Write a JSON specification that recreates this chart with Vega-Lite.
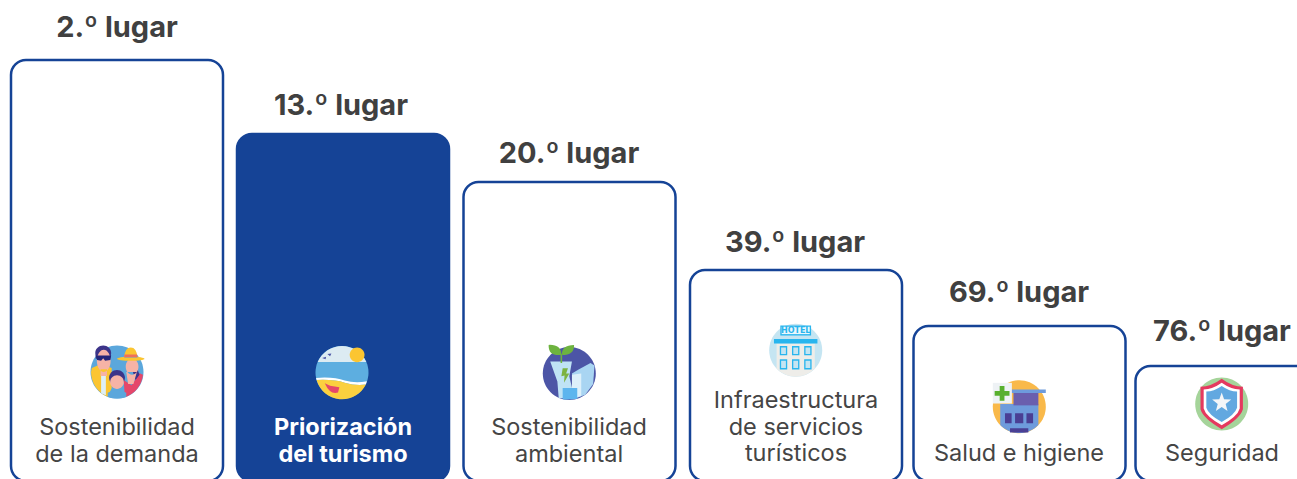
{"$schema":"https://vega.github.io/schema/vega-lite/v6.json","width":1297,"height":479,"padding":0,"autosize":{"type":"none"},"background":"white","view":{"stroke":null},
"datasets":{"pilares":[
{"orden":1,"puesto":2,"titulo":"2.º lugar","etiqueta":"Sostenibilidad\nde la demanda"},
{"orden":2,"puesto":13,"titulo":"13.º lugar","etiqueta":"Priorización\ndel turismo"},
{"orden":3,"puesto":20,"titulo":"20.º lugar","etiqueta":"Sostenibilidad\nambiental"},
{"orden":4,"puesto":39,"titulo":"39.º lugar","etiqueta":"Infraestructura\nde servicios\nturísticos"},
{"orden":5,"puesto":69,"titulo":"69.º lugar","etiqueta":"Salud e higiene"},
{"orden":6,"puesto":76,"titulo":"76.º lugar","etiqueta":"Seguridad"}],
"iconos":[
{"orden":1,"puesto":2,"parte":"fam_fondo"},{"orden":1,"puesto":2,"parte":"fam_camisa"},{"orden":1,"puesto":2,"parte":"fam_camiseta"},{"orden":1,"puesto":2,"parte":"fam_vestido"},{"orden":1,"puesto":2,"parte":"fam_pelo"},{"orden":1,"puesto":2,"parte":"fam_piel"},{"orden":1,"puesto":2,"parte":"fam_gafas"},{"orden":1,"puesto":2,"parte":"fam_sombrero"},{"orden":1,"puesto":2,"parte":"fam_cinta"},{"orden":1,"puesto":2,"parte":"fam_pelo_n"},{"orden":1,"puesto":2,"parte":"fam_piel_n"},{"orden":1,"puesto":2,"parte":"fam_camisa_n"},
{"orden":2,"puesto":13,"parte":"pla_mar"},{"orden":2,"puesto":13,"parte":"pla_cielo"},{"orden":2,"puesto":13,"parte":"pla_espuma"},{"orden":2,"puesto":13,"parte":"pla_arena"},{"orden":2,"puesto":13,"parte":"pla_sol"},{"orden":2,"puesto":13,"parte":"pla_aves"},{"orden":2,"puesto":13,"parte":"pla_bote"},
{"orden":3,"puesto":20,"parte":"amb_fondo"},{"orden":3,"puesto":20,"parte":"amb_edif2"},{"orden":3,"puesto":20,"parte":"amb_edif3"},{"orden":3,"puesto":20,"parte":"amb_torre"},{"orden":3,"puesto":20,"parte":"amb_franjas"},{"orden":3,"puesto":20,"parte":"amb_rayo"},{"orden":3,"puesto":20,"parte":"amb_hojas"},
{"orden":4,"puesto":39,"parte":"hot_fondo"},{"orden":4,"puesto":39,"parte":"hot_edificio"},{"orden":4,"puesto":39,"parte":"hot_azul"},{"orden":4,"puesto":39,"parte":"hot_vidrio"},{"orden":4,"puesto":39,"parte":"hot_letrero"},
{"orden":5,"puesto":69,"parte":"sal_fondo"},{"orden":5,"puesto":69,"parte":"sal_edificio"},{"orden":5,"puesto":69,"parte":"sal_alto"},{"orden":5,"puesto":69,"parte":"sal_techo"},{"orden":5,"puesto":69,"parte":"sal_ventanas"},{"orden":5,"puesto":69,"parte":"sal_cartel"},{"orden":5,"puesto":69,"parte":"sal_cruz"},
{"orden":6,"puesto":76,"parte":"seg_fondo"},{"orden":6,"puesto":76,"parte":"seg_rojo"},{"orden":6,"puesto":76,"parte":"seg_blanco"},{"orden":6,"puesto":76,"parte":"seg_azul"},{"orden":6,"puesto":76,"parte":"seg_estrella"}]},
"resolve":{"scale":{"x":"independent","y":"independent"}},
"layer":[
{"data":{"name":"pilares"},"mark":{"type":"bar","width":212,"cornerRadius":15,"stroke":"#154396","strokeWidth":2.5},
"encoding":{"x":{"field":"orden","type":"quantitative","axis":null,"scale":{"padding":0,"domain":[1,2,3,4,5,6],"range":[117,343,569.5,796,1019.5,1241.5]}},
"y":{"field":"puesto","type":"quantitative","axis":null,"scale":{"padding":0,"domain":[2,13,20,39,69,76,200],"range":[60,134,182,270,326,366,481]}},
"y2":{"datum":200},
"fill":{"condition":{"test":"datum.puesto===13","value":"#154396"},"value":"#ffffff"}}},
{"data":{"name":"pilares"},"mark":{"type":"text","font":"Inter","fontWeight":700,"fontSize":29,"color":"#404040","align":"center","baseline":"alphabetic"},
"encoding":{"text":{"field":"titulo"},"x":{"field":"orden","type":"quantitative","axis":null,"scale":{"domain":[1,2,3,4,5,6],"range":[117,341,569,795,1019,1222]}},
"y":{"field":"puesto","type":"quantitative","axis":null,"scale":{"domain":[2,13,20,39,69,76],"range":[37,115,163,252,302,341]}}}},
{"data":{"name":"pilares"},"transform":[{"filter":"datum.puesto!==13"}],"mark":{"type":"text","font":"Inter","fontSize":23.5,"lineBreak":"\n","lineHeight":26.5,"align":"center","baseline":"alphabetic","color":"#454545"},
"encoding":{"text":{"field":"etiqueta"},"x":{"field":"orden","type":"quantitative","axis":null,"scale":{"domain":[1,2,3,4,5,6],"range":[117,343,569,796,1019,1222]}},
"y":{"field":"puesto","type":"quantitative","axis":null,"scale":{"domain":[2,13,20,39,69,76],"range":[435,435,435,408,461,461]}}}},
{"data":{"name":"pilares"},"transform":[{"filter":"datum.puesto===13"}],"mark":{"type":"text","font":"Inter","fontSize":23.5,"fontWeight":700,"lineBreak":"\n","lineHeight":26.5,"align":"center","baseline":"alphabetic","color":"#ffffff"},
"encoding":{"text":{"field":"etiqueta"},"x":{"field":"orden","type":"quantitative","axis":null,"scale":{"domain":[1,2,3,4,5,6],"range":[117,343,569,796,1019,1222]}},
"y":{"field":"puesto","type":"quantitative","axis":null,"scale":{"domain":[2,13,20,39,69,76],"range":[435,435,435,408,461,461]}}}},
{"data":{"name":"iconos"},"mark":{"type":"point","filled":true,"opacity":1,"strokeWidth":0,"size":2809},
"encoding":{"x":{"field":"orden","type":"quantitative","axis":null,"scale":{"domain":[1,2,3,4,5,6],"range":[117,342,569.3,795.7,1019.3,1221.7]}},
"y":{"field":"puesto","type":"quantitative","axis":null,"scale":{"domain":[2,13,20,39,69,76],"range":[372,372.6,373.5,350.3,406.7,404]}},
"color":{"field":"parte","type":"nominal","legend":null,"scale":{
"domain":["fam_fondo","fam_camisa","fam_camiseta","fam_vestido","fam_pelo","fam_piel","fam_gafas","fam_sombrero","fam_cinta","fam_pelo_n","fam_piel_n","fam_camisa_n","pla_mar","pla_cielo","pla_espuma","pla_arena","pla_sol","pla_aves","pla_bote","amb_fondo","amb_edif2","amb_edif3","amb_torre","amb_franjas","amb_rayo","amb_hojas","hot_fondo","hot_edificio","hot_azul","hot_vidrio","hot_letrero","sal_fondo","sal_edificio","sal_alto","sal_techo","sal_ventanas","sal_cartel","sal_cruz","seg_fondo","seg_rojo","seg_blanco","seg_azul","seg_estrella"],
"range":["#5BA7DC","#FBC531","#DDEFF6","#E5476A","#3C3489","#F6B3A6","#24267A","#FBC531","#F0705A","#3C3489","#F6B3A6","#5BA7DC","#5DAEE0","#DCEBF2","#FFFFFF","#FBD03F","#FBC531","#4C55A6","#E5476A","#4C55A6","#A9D5F2","#DDF0FA","#BFE3F5","#5DB5EE","#7CB342","#6DB33F","#C5E5F2","#EEEDE9","#29B5EE","#C5E5F2","#EAF7FC","#F9B94A","#6E9BDC","#6A5FAE","#6E9BDC","#4A3F94","#EEF2F5","#58B02E","#A5D49A","#E5395F","#FFFFFF","#62A8E0","#F4F6F8"]}},
"shape":{"field":"parte","type":"nominal","legend":null,"scale":{
"domain":["fam_fondo","fam_camisa","fam_camiseta","fam_vestido","fam_pelo","fam_piel","fam_gafas","fam_sombrero","fam_cinta","fam_pelo_n","fam_piel_n","fam_camisa_n","pla_mar","pla_cielo","pla_espuma","pla_arena","pla_sol","pla_aves","pla_bote","amb_fondo","amb_edif2","amb_edif3","amb_torre","amb_franjas","amb_rayo","amb_hojas","hot_fondo","hot_edificio","hot_azul","hot_vidrio","hot_letrero","sal_fondo","sal_edificio","sal_alto","sal_techo","sal_ventanas","sal_cartel","sal_cruz","seg_fondo","seg_rojo","seg_blanco","seg_azul","seg_estrella"],
"range":[
"M-1,0A1,1 0 1 0 1,0A1,1 0 1 0 -1,0Z",
"M-0.98,0 L-0.95,-0.15 L-0.6,-0.3 L-0.2,-0.15 L-0.2,0.6 L-0.35,0.93 A1 1 0 0 1 -0.98,0 Z",
"M-0.6,0.1 L-0.42,0.1 L-0.42,0.88 L-0.6,0.8 Z",
"M0.25,0.3 L0.55,0.5 L0.85,0.05 L0.98,0.1 A1 1 0 0 1 0.3,0.95 Z",
"M-0.82,-0.72 A0.3 0.28 0 1 1 -0.22,-0.72 L-0.25,-0.5 L-0.8,-0.5 Z M0.7,-0.3 L0.85,0.1 L0.7,0.3 L0.6,0 Z",
"M-0.76,-0.42 A0.26 0.42 0 1 0 -0.24,-0.42 A0.26 0.42 0 1 0 -0.76,-0.42 Z M0.33,-0.2 A0.24 0.3 0 1 0 0.81,-0.2 A0.24 0.3 0 1 0 0.33,-0.2 Z M-0.62,-0.1 L-0.38,-0.1 L-0.38,0.15 L-0.62,0.15 Z M0.35,0 L0.75,0 L0.62,0.45 L0.42,0.45 Z",
"M-0.8,-0.62 L-0.22,-0.62 L-0.25,-0.45 L-0.45,-0.42 L-0.52,-0.52 L-0.6,-0.42 L-0.75,-0.45 Z",
"M0,-0.5 A0.52 0.08 0 1 0 1.04,-0.5 A0.52 0.08 0 1 0 0,-0.5 Z M0.27,-0.55 Q0.3,-0.92 0.52,-0.92 Q0.74,-0.92 0.77,-0.55 Z",
"M0.28,-0.66 L0.76,-0.66 L0.77,-0.56 L0.27,-0.56 Z",
"M-0.3,0.22 A0.3 0.3 0 1 0 0.3,0.22 A0.3 0.3 0 1 0 -0.3,0.22 Z",
"M-0.26,0.38 A0.26 0.26 0 1 0 0.26,0.38 A0.26 0.26 0 1 0 -0.26,0.38 Z",
"M-0.35,0.94 L-0.35,0.78 Q0,0.58 0.35,0.78 L0.35,0.94 A1 1 0 0 1 -0.35,0.94 Z",
"M-1,0A1,1 0 1 0 1,0A1,1 0 1 0 -1,0Z",
"M-0.917,-0.4 A1 1 0 0 1 0.917,-0.4 Z",
"M-0.98,0.2 Q-0.3,0.15 0.1,0.3 Q0.5,0.42 0.94,0.33 L0.9,0.45 Q0.5,0.5 0.1,0.38 Q-0.3,0.25 -0.96,0.28 Z",
"M-0.96,0.28 Q-0.3,0.25 0.1,0.38 Q0.5,0.5 0.9,0.45 A1 1 0 0 1 -0.96,0.28 Z",
"M0.29,-0.67 A0.28 0.28 0 1 0 0.85,-0.67 A0.28 0.28 0 1 0 0.29,-0.67 Z",
"M-0.75,-0.55 L-0.6,-0.6 L-0.62,-0.5 Z M-0.55,-0.7 L-0.4,-0.72 L-0.45,-0.62 Z",
"M-0.65,0.4 L-0.45,0.5 L-0.1,0.55 L-0.15,0.75 Q-0.45,0.85 -0.65,0.4 Z",
"M-1,0A1,1 0 1 0 1,0A1,1 0 1 0 -1,0Z",
"M0.35,-0.15 L0.8,-0.4 L0.95,-0.3 L0.9,0.4 L0.6,0.8 L0.2,0.95 L0.1,0 Z",
"M0.1,0.05 L0.45,0 L0.45,0.85 L0.1,0.95 Z",
"M-0.72,-0.45 L0.1,-0.45 L0,0.1 L0.2,0.95 L-0.4,0.92 L-0.45,0.3 Z",
"M-0.25,0.55 L0.3,0.55 L0.3,0.95 Q0,1 -0.25,0.97 Z",
"M-0.25,-0.2 L-0.3,0.1 L-0.18,0.08 L-0.2,0.35 L0,0 L-0.12,0 L-0.05,-0.2 Z",
"M-0.3,-0.7 Q-0.8,-0.65 -0.78,-1.08 Q-0.3,-1.1 -0.3,-0.7 Z M-0.28,-0.7 Q0.2,-0.7 0.18,-1.08 Q-0.3,-1.08 -0.28,-0.7 Z M-0.33,-0.75 L-0.27,-0.75 L-0.27,-0.4 L-0.33,-0.4 Z",
"M-1,0A1,1 0 1 0 1,0A1,1 0 1 0 -1,0Z",
"M-0.72,-0.26 L0.72,-0.26 L0.72,0.69 A1 1 0 0 1 -0.72,0.69 Z",
"M-0.82,-0.43 L0.82,-0.43 L0.82,-0.26 L-0.82,-0.26 Z M-0.6,-0.16 L-0.32,-0.16 L-0.32,0.19 L-0.6,0.19 Z M-0.14,-0.16 L0.14,-0.16 L0.14,0.19 L-0.14,0.19 Z M0.32,-0.16 L0.6,-0.16 L0.6,0.19 L0.32,0.19 Z M-0.6,0.34 L-0.32,0.34 L-0.32,0.72 L-0.6,0.72 Z M-0.14,0.34 L0.14,0.34 L0.14,0.72 L-0.14,0.72 Z M0.32,0.34 L0.6,0.34 L0.6,0.72 L0.32,0.72 Z M-0.58,-0.94 L0.58,-0.94 L0.58,-0.56 L-0.58,-0.56 Z",
"M-0.55,-0.11 L-0.37,-0.11 L-0.37,0.14 L-0.55,0.14 Z M-0.09,-0.11 L0.09,-0.11 L0.09,0.14 L-0.09,0.14 Z M0.37,-0.11 L0.55,-0.11 L0.55,0.14 L0.37,0.14 Z M-0.55,0.39 L-0.37,0.39 L-0.37,0.67 L-0.55,0.67 Z M-0.09,0.39 L0.09,0.39 L0.09,0.67 L-0.09,0.67 Z M0.37,0.39 L0.55,0.39 L0.55,0.67 L0.37,0.67 Z",
"M-0.53,-0.89 L0.53,-0.89 L0.53,-0.61 L-0.53,-0.61 Z",
"M-1,0A1,1 0 1 0 1,0A1,1 0 1 0 -1,0Z",
"M-0.72,-0.1 L0.72,-0.1 L0.72,0.69 A1 1 0 0 1 -0.72,0.69 Z",
"M-0.22,-0.55 L0.72,-0.55 L0.72,-0.05 L-0.22,-0.05 Z",
"M-0.35,-0.65 L1,-0.65 L1,-0.52 L-0.35,-0.52 Z",
"M-0.54,0.25 L-0.29,0.25 L-0.29,0.62 L-0.54,0.62 Z M-0.16,0.25 L0.15,0.25 L0.15,0.62 L-0.16,0.62 Z M0.27,0.25 L0.52,0.25 L0.52,0.62 L0.27,0.62 Z M-0.35,0.81 L0.34,0.81 L0.34,0.97 L-0.35,0.97 Z",
"M-1,-0.9 L-0.28,-0.9 L-0.28,-0.12 L-1,-0.12 Z",
"M-0.74,-0.78 L-0.56,-0.78 L-0.56,-0.59 L-0.37,-0.59 L-0.37,-0.41 L-0.56,-0.41 L-0.56,-0.22 L-0.74,-0.22 L-0.74,-0.41 L-0.93,-0.41 L-0.93,-0.59 L-0.74,-0.59 Z",
"M-1,0A1,1 0 1 0 1,0A1,1 0 1 0 -1,0Z",
"M0,-0.95 Q-0.4,-0.65 -0.8,-0.65 L-0.8,0.2 Q-0.7,0.55 0,0.95 Q0.7,0.55 0.8,0.2 L0.8,-0.65 Q0.4,-0.65 0,-0.95 Z",
"M0,-0.8 Q-0.35,-0.55 -0.68,-0.55 L-0.68,0.17 Q-0.6,0.47 0,0.8 Q0.6,0.47 0.68,0.17 L0.68,-0.55 Q0.35,-0.55 0,-0.8 Z",
"M0,-0.68 Q-0.3,-0.47 -0.58,-0.47 L-0.58,0.14 Q-0.5,0.4 0,0.68 Q0.5,0.4 0.58,0.14 L0.58,-0.47 Q0.3,-0.47 0,-0.68 Z",
"M0,-0.43 L0.09,-0.18 L0.36,-0.17 L0.15,0 L0.22,0.26 L0,0.11 L-0.22,0.26 L-0.15,0 L-0.36,-0.17 L-0.09,-0.18 Z"]}}}},
{"data":{"values":[{"orden":4,"puesto":39,"letrero":"HOTEL"}]},"mark":{"type":"text","font":"DejaVu Sans","fontWeight":700,"fontSize":8,"color":"#29B5EE","align":"center","baseline":"middle"},
"encoding":{"text":{"field":"letrero"},"x":{"field":"orden","type":"quantitative","axis":null,"scale":{"domain":[1,6],"range":[795.7,795.7]}},"y":{"field":"puesto","type":"quantitative","axis":null,"scale":{"domain":[0,100],"range":[331,331]}}}}
]}
